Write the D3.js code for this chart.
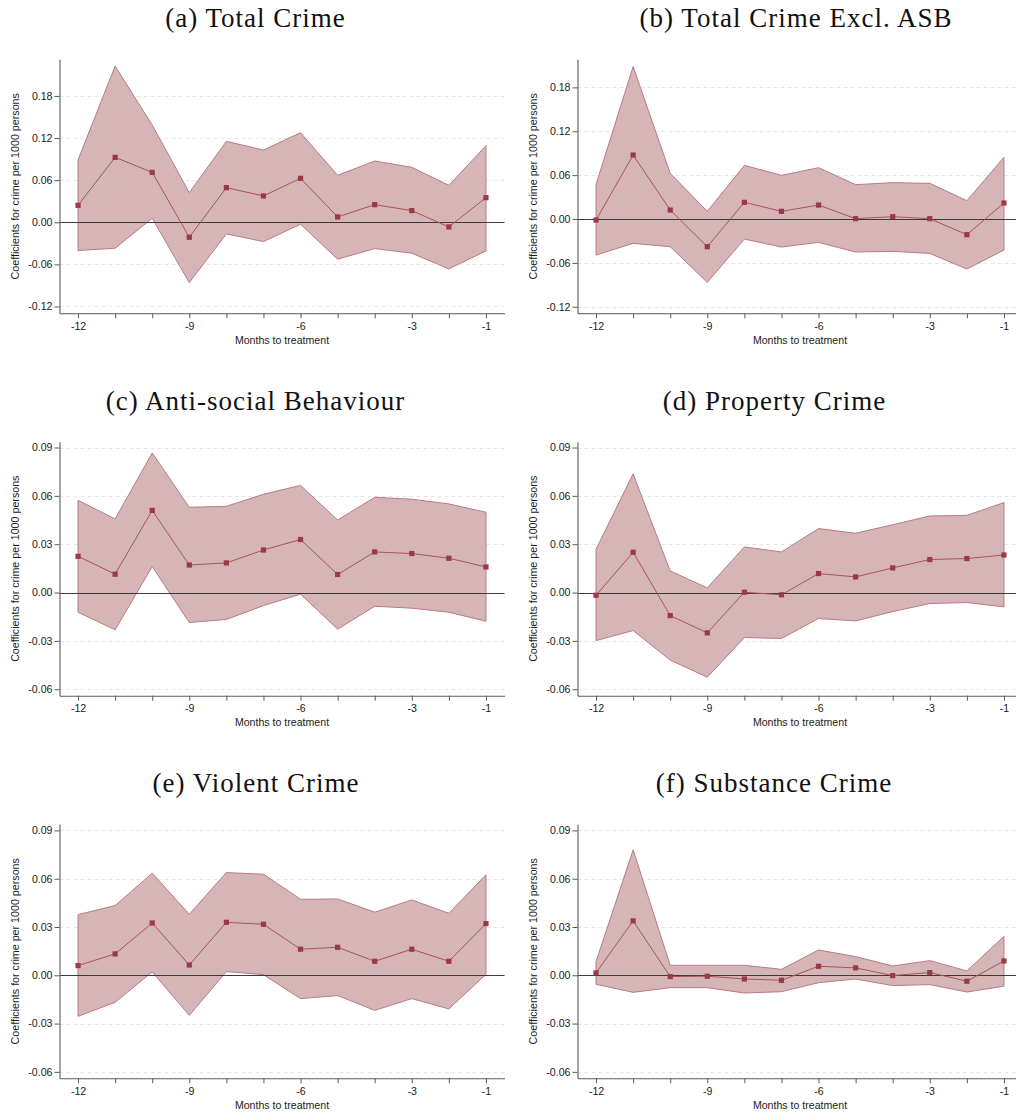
<!DOCTYPE html>
<html>
<head>
<meta charset="utf-8">
<script src="https://cdn.jsdelivr.net/npm/d3@7"></script>
<style>
  body { margin: 0; background: #fff; }
  svg { display: block; }
</style>
</head>
<body>
<svg id="chart" width="1016" height="1115"></svg>
<script>
// Event-study coefficients (per 1000 persons) with 95% confidence bounds
const months = [-12, -11, -10, -9, -8, -7, -6, -5, -4, -3, -2, -1];
const monthLabels = [-12, -9, -6, -3, -1];

const panelTitles = [
  "(a) Total Crime",
  "(b) Total Crime Excl. ASB",
  "(c) Anti-social Behaviour",
  "(d) Property Crime",
  "(e) Violent Crime",
  "(f) Substance Crime"
];

const totalCoef = [0.0242, 0.0925, 0.0711, -0.0213, 0.0493, 0.0375, 0.0626, 0.0076, 0.0251, 0.0166, -0.0066, 0.0351];
const totalHi   = [0.0887, 0.2225, 0.1385, 0.0422, 0.1153, 0.1029, 0.1276, 0.0669, 0.0873, 0.0783, 0.0526, 0.1091];
const totalLo   = [-0.0403, -0.0370, 0.0057, -0.0859, -0.0166, -0.0275, -0.0028, -0.0526, -0.0375, -0.0441, -0.0664, -0.0408];

const exAsbCoef = [-0.0014, 0.0875, 0.0123, -0.0378, 0.0228, 0.0105, 0.0191, 0.0005, 0.0032, 0.0005, -0.0214, 0.0219];
const exAsbHi   = [0.0474, 0.2084, 0.0625, 0.0105, 0.0734, 0.0597, 0.0702, 0.0470, 0.0497, 0.0488, 0.0251, 0.0843];
const exAsbLo   = [-0.0492, -0.0333, -0.0378, -0.0866, -0.0274, -0.0383, -0.0319, -0.0451, -0.0442, -0.0470, -0.0684, -0.0424];

const asbCoef = [0.0225, 0.0114, 0.0510, 0.0171, 0.0184, 0.0264, 0.0329, 0.0112, 0.0252, 0.0242, 0.0213, 0.0159];
const asbHi   = [0.0572, 0.0457, 0.0866, 0.0529, 0.0535, 0.0610, 0.0665, 0.0450, 0.0591, 0.0579, 0.0550, 0.0498];
const asbLo   = [-0.0122, -0.0231, 0.0161, -0.0186, -0.0167, -0.0081, -0.0010, -0.0227, -0.0085, -0.0097, -0.0122, -0.0178];

const propCoef = [-0.0017, 0.0250, -0.0143, -0.0250, 0.0002, -0.0014, 0.0118, 0.0097, 0.0153, 0.0205, 0.0211, 0.0233];
const propHi   = [0.0269, 0.0736, 0.0134, 0.0029, 0.0283, 0.0252, 0.0397, 0.0368, 0.0421, 0.0475, 0.0479, 0.0558];
const propLo   = [-0.0298, -0.0236, -0.0419, -0.0525, -0.0279, -0.0285, -0.0161, -0.0176, -0.0118, -0.0068, -0.0062, -0.0089];

const violCoef = [0.0060, 0.0133, 0.0325, 0.0064, 0.0329, 0.0317, 0.0162, 0.0174, 0.0087, 0.0162, 0.0087, 0.0321];
const violHi   = [0.0377, 0.0433, 0.0634, 0.0379, 0.0638, 0.0628, 0.0472, 0.0474, 0.0392, 0.0468, 0.0385, 0.0624];
const violLo   = [-0.0255, -0.0168, 0.0021, -0.0249, 0.0023, 0.0004, -0.0145, -0.0126, -0.0218, -0.0145, -0.0209, 0.0006];

const substCoef = [0.0015, 0.0338, -0.0008, -0.0006, -0.0023, -0.0031, 0.0056, 0.0046, -0.0002, 0.0017, -0.0037, 0.0089];
const substHi   = [0.0085, 0.0779, 0.0062, 0.0062, 0.0062, 0.0037, 0.0157, 0.0116, 0.0058, 0.0091, 0.0027, 0.0242];
const substLo   = [-0.0056, -0.0106, -0.0077, -0.0077, -0.0110, -0.0102, -0.0046, -0.0023, -0.0064, -0.0058, -0.0104, -0.0068];

const yTicksWide   = [-0.12, -0.06, 0.00, 0.06, 0.12, 0.18];
const yTicksNarrow = [-0.06, -0.03, 0.00, 0.03, 0.06, 0.09];

const yRangeTotal = [-0.1297, 0.2322];
const yRangeExAsb = [-0.1289, 0.2184];
const yRangeMid   = [-0.0640, 0.0936];
const yRangeLow   = [-0.0640, 0.0938];

const xLabel = "Months to treatment";
const yLabel = "Coefficients for crime per 1000 persons";

// Panel descriptions assembled from the arrays above
const panels = [
  { title: panelTitles[0], coef: totalCoef, hi: totalHi, lo: totalLo, ticks: yTicksWide,   yDom: yRangeTotal },
  { title: panelTitles[1], coef: exAsbCoef, hi: exAsbHi, lo: exAsbLo, ticks: yTicksWide,   yDom: yRangeExAsb },
  { title: panelTitles[2], coef: asbCoef,   hi: asbHi,   lo: asbLo,   ticks: yTicksNarrow, yDom: yRangeMid },
  { title: panelTitles[3], coef: propCoef,  hi: propHi,  lo: propLo,  ticks: yTicksNarrow, yDom: yRangeMid },
  { title: panelTitles[4], coef: violCoef,  hi: violHi,  lo: violLo,  ticks: yTicksNarrow, yDom: yRangeLow },
  { title: panelTitles[5], coef: substCoef, hi: substHi, lo: substLo, ticks: yTicksNarrow, yDom: yRangeLow }
];

// Layout
const colAxisX = [59.5, 577.5];
const rowTop = [59.3, 441.7, 824.3];
const plotW = 445;
const plotH = 254;
const titleX = [255.5, 796, 255.5, 774.5, 256, 774];

const COL = {
  band: "#d6b5b7",
  bandEdge: "#b97a80",
  line: "#a9525b",
  marker: "#993a45",
  axis: "#5a5a5a",
  zero: "#3a3a3a",
  grid: "#e6e6e6",
  text: "#1a1a1a"
};

const loc = d3.formatLocale({ decimal: ".", thousands: ",", grouping: [3], currency: ["", ""], minus: "-" });
const fmtY = loc.format(".2f");
const fmtX = loc.format("d");

const svg = d3.select("#chart");
const sans = "'Liberation Sans', Arial, sans-serif";
const serif = "'Liberation Serif', 'Times New Roman', serif";

panels.forEach((p, i) => {
  const col = i % 2, row = Math.floor(i / 2);
  const ax = colAxisX[col];
  const top = rowTop[row];
  const bottom = top + plotH;

  const x = d3.scaleLinear().domain([-12.5, -0.5]).range([ax, ax + plotW]);
  const y = d3.scaleLinear().domain(p.yDom).range([bottom, top]);

  const rows = months.map((m, k) => ({ m, c: p.coef[k], hi: p.hi[k], lo: p.lo[k] }));
  const g = svg.append("g");

  // Title
  svg.append("text")
    .attr("x", titleX[i])
    .attr("y", top - 32)
    .attr("text-anchor", "middle")
    .attr("font-family", serif)
    .attr("font-size", 27)
    .attr("letter-spacing", 1.0)
    .attr("fill", "#111")
    .text(p.title);

  // Dashed horizontal gridlines
  g.append("g").selectAll("line")
    .data(p.ticks)
    .join("line")
    .attr("x1", ax)
    .attr("x2", ax + plotW)
    .attr("y1", d => Math.round(y(d)) + 0.5)
    .attr("y2", d => Math.round(y(d)) + 0.5)
    .attr("stroke", COL.grid)
    .attr("stroke-width", 1)
    .attr("stroke-dasharray", "4,3");

  // Confidence band
  const area = d3.area()
    .x(d => x(d.m))
    .y0(d => y(d.lo))
    .y1(d => y(d.hi));
  g.append("path")
    .datum(rows)
    .attr("d", area)
    .attr("fill", COL.band)
    .attr("stroke", "none");
  g.append("path")
    .datum(rows)
    .attr("d", d3.line().x(d => x(d.m)).y(d => y(d.hi)))
    .attr("fill", "none")
    .attr("stroke", COL.bandEdge)
    .attr("stroke-width", 1);
  g.append("path")
    .datum(rows)
    .attr("d", d3.line().x(d => x(d.m)).y(d => y(d.lo)))
    .attr("fill", "none")
    .attr("stroke", COL.bandEdge)
    .attr("stroke-width", 1);
  // Closing edges at the first and last month
  [rows[0], rows[rows.length - 1]].forEach(d => {
    g.append("line")
      .attr("x1", x(d.m)).attr("x2", x(d.m))
      .attr("y1", y(d.lo)).attr("y2", y(d.hi))
      .attr("stroke", COL.bandEdge)
      .attr("stroke-width", 1);
  });

  // Zero reference line
  g.append("line")
    .attr("x1", ax)
    .attr("x2", ax + plotW)
    .attr("y1", Math.round(y(0)) + 0.5)
    .attr("y2", Math.round(y(0)) + 0.5)
    .attr("stroke", COL.zero)
    .attr("stroke-width", 1.1);

  // Point estimates
  g.append("path")
    .datum(rows)
    .attr("d", d3.line().x(d => x(d.m)).y(d => y(d.c)))
    .attr("fill", "none")
    .attr("stroke", COL.line)
    .attr("stroke-width", 1);
  g.append("g").selectAll("rect")
    .data(rows)
    .join("rect")
    .attr("x", d => x(d.m) - 2.6)
    .attr("y", d => y(d.c) - 2.6)
    .attr("width", 5.2)
    .attr("height", 5.2)
    .attr("fill", COL.marker);

  // Y axis
  const yAxis = g.append("g")
    .attr("transform", `translate(${ax},0)`)
    .call(d3.axisLeft(y).tickValues(p.ticks).tickFormat(fmtY).tickSize(5).tickSizeOuter(0).tickPadding(2));
  // X axis
  const xAxis = g.append("g")
    .attr("transform", `translate(0,${bottom})`)
    .call(d3.axisBottom(x).tickValues(months)
      .tickFormat(m => monthLabels.includes(m) ? fmtX(m) : "")
      .tickSize(5).tickSizeOuter(0).tickPadding(4));

  [yAxis, xAxis].forEach(a => {
    a.select(".domain").attr("stroke", COL.axis).attr("stroke-width", 1.1);
    a.selectAll(".tick line").attr("stroke", COL.axis);
    a.selectAll(".tick text")
      .attr("font-family", sans)
      .attr("font-size", 10.6)
      .attr("fill", COL.text);
  });

  // Axis titles
  g.append("text")
    .attr("x", ax + plotW / 2)
    .attr("y", bottom + 30.5)
    .attr("text-anchor", "middle")
    .attr("font-family", sans)
    .attr("font-size", 10.6)
    .attr("fill", COL.text)
    .text(xLabel);
  g.append("text")
    .attr("transform", `translate(${ax - 44.5},${(top + bottom) / 2}) rotate(-90)`)
    .attr("text-anchor", "middle")
    .attr("dy", "0.35em")
    .attr("font-family", sans)
    .attr("font-size", 10.7)
    .attr("fill", COL.text)
    .text(yLabel);
});
</script>
</body>
</html>
